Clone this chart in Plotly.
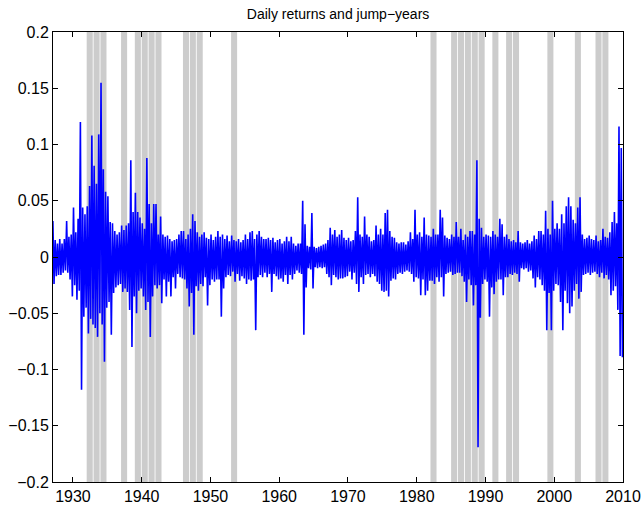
import numpy as np
import plotly.graph_objects as go

# ---------------- data ----------------
first_year = 1927
points_per_year = 6
# local extremes of daily returns, six per year, in time order
daily_returns = [
    0.032, -0.024, 0.015, -0.017, 0.012, -0.016,   # 1927
    0.016, -0.016, 0.012, -0.014, 0.016, -0.012,   # 1928
    0.032, -0.014, 0.018, -0.020, 0.020, -0.035,   # 1929
    0.044, -0.025, 0.022, -0.038, 0.034, -0.030,   # 1930
    0.120, -0.118, 0.044, -0.053, 0.038, -0.045,   # 1931
    0.045, -0.068, 0.063, -0.055, 0.108, -0.060,   # 1932
    0.081, -0.063, 0.065, -0.071, 0.109, -0.050,   # 1933
    0.155, -0.060, 0.078, -0.093, 0.058, -0.045,   # 1934
    0.054, -0.040, 0.031, -0.069, 0.030, -0.032,   # 1935
    0.023, -0.027, 0.020, -0.025, 0.022, -0.024,   # 1936
    0.028, -0.031, 0.024, -0.028, 0.028, -0.031,   # 1937
    0.030, -0.047, 0.086, -0.080, 0.040, -0.035,   # 1938
    0.057, -0.050, 0.040, -0.030, 0.035, -0.028,   # 1939
    0.030, -0.035, 0.025, -0.047, 0.088, -0.040,   # 1940
    0.047, -0.071, 0.030, -0.035, 0.047, -0.025,   # 1941
    0.047, -0.028, 0.020, -0.025, 0.036, -0.041,   # 1942
    0.020, -0.020, 0.018, -0.035, 0.019, -0.022,   # 1943
    0.016, -0.035, 0.014, -0.018, 0.015, -0.028,   # 1944
    0.016, -0.015, 0.020, -0.018, 0.023, -0.019,   # 1945
    0.023, -0.020, 0.016, -0.028, 0.020, -0.044,   # 1946
    0.025, -0.032, 0.038, -0.069, 0.032, -0.026,   # 1947
    0.022, -0.030, 0.018, -0.024, 0.020, -0.026,   # 1948
    0.022, -0.018, 0.017, -0.043, 0.016, -0.025,   # 1949
    0.020, -0.020, 0.015, -0.022, 0.018, -0.020,   # 1950
    0.023, -0.020, 0.018, -0.053, 0.020, -0.028,   # 1951
    0.016, -0.018, 0.019, -0.016, 0.014, -0.017,   # 1952
    0.019, -0.013, 0.015, -0.022, 0.014, -0.015,   # 1953
    0.016, -0.021, 0.013, -0.017, 0.015, -0.019,   # 1954
    0.020, -0.024, 0.016, -0.020, 0.022, -0.021,   # 1955
    0.023, -0.020, 0.016, -0.065, 0.020, -0.018,   # 1956
    0.023, -0.016, 0.018, -0.018, 0.016, -0.014,   # 1957
    0.016, -0.018, 0.017, -0.015, 0.015, -0.031,   # 1958
    0.017, -0.015, 0.013, -0.017, 0.015, -0.020,   # 1959
    0.016, -0.019, 0.012, -0.022, 0.014, -0.016,   # 1960
    0.018, -0.024, 0.014, -0.016, 0.018, -0.020,   # 1961
    0.012, -0.015, 0.010, -0.012, 0.012, -0.014,   # 1962
    0.012, -0.015, 0.050, -0.069, 0.029, -0.027,   # 1963
    0.010, -0.010, 0.009, -0.011, 0.039, -0.028,   # 1964
    0.009, -0.009, 0.008, -0.010, 0.009, -0.009,   # 1965
    0.010, -0.010, 0.011, -0.009, 0.012, -0.015,   # 1966
    0.015, -0.018, 0.026, -0.025, 0.020, -0.016,   # 1967
    0.024, -0.018, 0.018, -0.020, 0.020, -0.019,   # 1968
    0.024, -0.019, 0.017, -0.018, 0.015, -0.017,   # 1969
    0.017, -0.013, 0.014, -0.020, 0.015, -0.014,   # 1970
    0.023, -0.024, 0.053, -0.031, 0.020, -0.018,   # 1971
    0.018, -0.024, 0.036, -0.016, 0.020, -0.015,   # 1972
    0.018, -0.018, 0.014, -0.015, 0.015, -0.017,   # 1973
    0.028, -0.022, 0.020, -0.024, 0.025, -0.030,   # 1974
    0.020, -0.031, 0.039, -0.030, 0.042, -0.035,   # 1975
    0.023, -0.021, 0.018, -0.019, 0.017, -0.020,   # 1976
    0.013, -0.015, 0.012, -0.014, 0.013, -0.015,   # 1977
    0.013, -0.013, 0.011, -0.012, 0.014, -0.013,   # 1978
    0.022, -0.015, 0.016, -0.022, 0.042, -0.018,   # 1979
    0.020, -0.019, 0.022, -0.034, 0.018, -0.020,   # 1980
    0.035, -0.034, 0.020, -0.030, 0.019, -0.021,   # 1981
    0.018, -0.021, 0.025, -0.024, 0.020, -0.018,   # 1982
    0.020, -0.022, 0.042, -0.018, 0.035, -0.035,   # 1983
    0.019, -0.015, 0.017, -0.014, 0.016, -0.013,   # 1984
    0.020, -0.016, 0.018, -0.015, 0.031, -0.014,   # 1985
    0.018, -0.014, 0.025, -0.017, 0.015, -0.022,   # 1986
    0.020, -0.040, 0.018, -0.020, 0.023, -0.025,   # 1987
    0.023, -0.043, 0.020, -0.025, 0.086, -0.169,   # 1988
    0.034, -0.054, 0.026, -0.024, 0.018, -0.020,   # 1989
    0.020, -0.022, 0.019, -0.053, 0.018, -0.027,   # 1990
    0.023, -0.033, 0.020, -0.022, 0.018, -0.020,   # 1991
    0.034, -0.020, 0.029, -0.034, 0.018, -0.018,   # 1992
    0.020, -0.018, 0.016, -0.015, 0.014, -0.016,   # 1993
    0.015, -0.014, 0.013, -0.015, 0.023, -0.022,   # 1994
    0.013, -0.010, 0.012, -0.011, 0.013, -0.010,   # 1995
    0.015, -0.013, 0.012, -0.012, 0.014, -0.019,   # 1996
    0.019, -0.027, 0.016, -0.018, 0.023, -0.020,   # 1997
    0.023, -0.025, 0.020, -0.030, 0.041, -0.065,   # 1998
    0.025, -0.032, 0.020, -0.065, 0.050, -0.030,   # 1999
    0.025, -0.024, 0.030, -0.025, 0.025, -0.040,   # 2000
    0.038, -0.065, 0.030, -0.030, 0.045, -0.041,   # 2001
    0.053, -0.050, 0.045, -0.044, 0.033, -0.030,   # 2002
    0.030, -0.024, 0.044, -0.037, 0.053, -0.031,   # 2003
    0.020, -0.016, 0.016, -0.015, 0.017, -0.014,   # 2004
    0.019, -0.016, 0.016, -0.014, 0.015, -0.013,   # 2005
    0.019, -0.015, 0.014, -0.018, 0.015, -0.014,   # 2006
    0.025, -0.019, 0.018, -0.016, 0.017, -0.020,   # 2007
    0.022, -0.034, 0.031, -0.030, 0.040, -0.026,   # 2008
    0.030, -0.047, 0.116, -0.088, 0.097, -0.089,   # 2009
]

jump_years = [1932, 1933, 1934, 1937, 1939, 1940, 1941, 1942, 1946, 1947, 1948,
              1953, 1982, 1985, 1986, 1987, 1988, 1989, 1991, 1993, 1994, 1999,
              2003, 2006, 2007]

x_tick_vals = [1930, 1940, 1950, 1960, 1970, 1980, 1990, 2000, 2010]
x_tick_text = ["1930", "1940", "1950", "1960", "1970", "1980", "1990", "2000", "2010"]
y_tick_vals = [-0.2, -0.15, -0.1, -0.05, 0, 0.05, 0.1, 0.15, 0.2]
y_tick_text = ["\u22120.2", "\u22120.15", "\u22120.1", "\u22120.05", "0",
               "0.05", "0.1", "0.15", "0.2"]

title_text = "Daily returns and jump\u2212years"

# ---------------- figure ----------------
idx = np.arange(len(daily_returns))
dates = first_year + (idx + 0.5) / points_per_year

fig = go.Figure()
fig.add_trace(go.Scatter(
    x=dates, y=daily_returns, mode="lines",
    line=dict(color="#0000ff", width=1.6, simplify=False),
    showlegend=False, hoverinfo="skip",
))

for yr in jump_years:
    fig.add_shape(type="rect", xref="x", yref="paper",
                  x0=yr, x1=yr + 0.88, y0=0, y1=1,
                  fillcolor="#cccccc", line=dict(width=0), layer="below")

axis_common = dict(
    showgrid=False, zeroline=False, showline=True, linecolor="black",
    linewidth=1, mirror="allticks", ticks="inside", ticklen=5,
    tickcolor="black", tickwidth=1, automargin=False,
    tickfont=dict(family="Liberation Sans, Arial, sans-serif", size=16, color="black"),
)

fig.update_layout(
    width=644, height=507,
    margin=dict(l=53, r=21, t=32, b=25),
    paper_bgcolor="white", plot_bgcolor="white",
    title=dict(text=title_text, x=0.525, xanchor="center", y=0.972, yanchor="middle",
               font=dict(family="Liberation Sans, Arial, sans-serif", size=14, color="black")),
    xaxis=dict(range=[1927.1, 2010.0], tickvals=x_tick_vals, ticktext=x_tick_text,
               **axis_common),
    yaxis=dict(range=[-0.2, 0.2], tickvals=y_tick_vals, ticktext=y_tick_text,
               **axis_common),
)

fig.write_html("out.html")
